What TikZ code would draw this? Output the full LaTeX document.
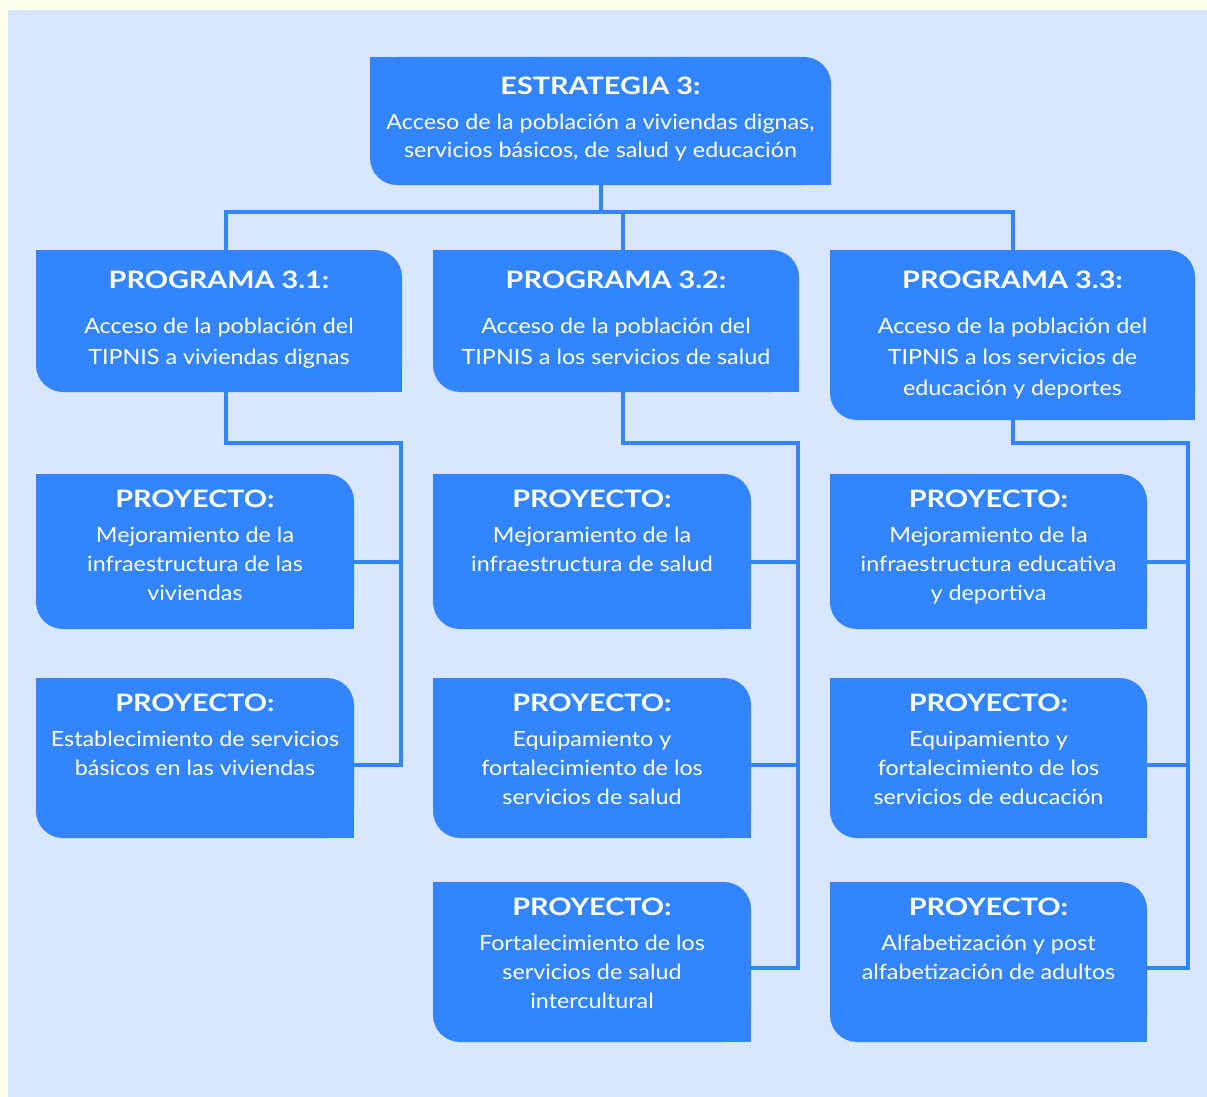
\documentclass[tikz,border=0pt]{standalone}
\usepackage{fontspec}
\setmainfont{Lato}[FakeStretch=1.11, BoldFeatures={FakeStretch=1.2}]
\usetikzlibrary{calc}
\definecolor{boxblue}{HTML}{3385FF}
\definecolor{paneblue}{HTML}{D9E6FF}
\definecolor{cream}{HTML}{FFFFEE}
\newcommand{\boxtxt}[4]{\parbox[b][#2][t]{#1}{\centering\rule{0pt}{\toppad}{\bfseries\fontsize{24}{28}\selectfont #3\par}\vspace{\midpad}#4\par}}

\begin{document}
\begin{tikzpicture}[x=1pt,y=-1pt]
\def \lw {4pt}
  \tikzstyle{leaf} = [inner sep=0, outer sep=0, anchor=north west, text=white,
                      path picture={\fill[boxblue,rounded corners=27pt] (path picture bounding box.south west) rectangle (path picture bounding box.north east);
                                    \fill[boxblue] (path picture bounding box.north west) rectangle ++(30pt,-30pt);
                                    \fill[boxblue] (path picture bounding box.south east) rectangle ++(-30pt,30pt);}]
  \tikzstyle{estrbox} = [leaf, font=\fontsize{21}{28}\selectfont\def\toppad{38pt}\def\midpad{7pt}]
  \tikzstyle{progbox} = [leaf, font=\fontsize{21}{31}\selectfont\def\toppad{38pt}\def\midpad{14pt}]
  \tikzstyle{projbox} = [leaf, font=\fontsize{21}{29}\selectfont\def\toppad{33pt}\def\midpad{6pt}]
  \tikzstyle{conn} = [boxblue, line width=\lw, line join=miter]

%%%%%%%%%%%%%%%%%%%%%%%%%%%%%%%%%%%%%%%%%%%%%%%%%%%%%%%%%%%%%%%%%%%%%%%%%%%%%%%

\useasboundingbox (0,0) rectangle (1207,1097);
\fill[cream] (0,0) rectangle (1207,1097);
\fill[paneblue] (8,10) rectangle (1207,1097);

\coordinate (bus) at (0,212);
\coordinate (tr1) at (401,443);
\coordinate (tr2) at (798,443);
\coordinate (tr3) at (1188,443);

%%%%%%%%%%%%%%%%%%%%%%%%%%%%%%%%%%%%%%%%%%%%%%%%%%%%%%%%%%%%%%%%%%%%%%%%%%%%%%%

\node[estrbox] (estr) at (370,57) {\boxtxt{461pt}{128pt}{ESTRATEGIA 3:}{Acceso de la población a viviendas dignas,\\servicios básicos, de salud y educación}};

\node[progbox] (prog1) at (36,250) {\boxtxt{366pt}{142pt}{PROGRAMA 3.1:}{Acceso de la población del\\TIPNIS a viviendas dignas}};
\node[progbox] (prog2) at (433,250) {\boxtxt{366pt}{142pt}{PROGRAMA 3.2:}{Acceso de la población del\\TIPNIS a los servicios de salud}};
\node[progbox] (prog3) at (830,250) {\boxtxt{365pt}{170pt}{PROGRAMA 3.3:}{Acceso de la población del\\TIPNIS a los servicios de\\educación y deportes}};

\node[projbox] (py11) at (36,474) {\boxtxt{318pt}{155pt}{PROYECTO:}{Mejoramiento de la\\infraestructura de las\\viviendas}};
\node[projbox] (py12) at (36,678) {\boxtxt{318pt}{160pt}{PROYECTO:}{Establecimiento de servicios\\básicos en las viviendas}};

\node[projbox] (py21) at (433,474) {\boxtxt{318pt}{155pt}{PROYECTO:}{Mejoramiento de la\\infraestructura de salud}};
\node[projbox] (py22) at (433,678) {\boxtxt{318pt}{160pt}{PROYECTO:}{Equipamiento y\\fortalecimiento de los\\servicios de salud}};
\node[projbox] (py23) at (433,882) {\boxtxt{318pt}{160pt}{PROYECTO:}{Fortalecimiento de los\\servicios de salud\\intercultural}};

\node[projbox] (py31) at (830,474) {\boxtxt{317pt}{155pt}{PROYECTO:}{Mejoramiento de la\\infraestructura educativa\\y deportiva}};
\node[projbox] (py32) at (830,678) {\boxtxt{317pt}{160pt}{PROYECTO:}{Equipamiento y\\fortalecimiento de los\\servicios de educación}};
\node[projbox] (py33) at (830,882) {\boxtxt{317pt}{160pt}{PROYECTO:}{Alfabetización y post\\alfabetización de adultos}};

%%%%%%%%%%%%%%%%%%%%%%%%%%%%%%%%%%%%%%%%%%%%%%%%%%%%%%%%%%%%%%%%%%%%%%%%%%%%%%%

\coordinate (p1top) at ([xshift=7pt]prog1.north);
\coordinate (p2top) at ([xshift=7pt]prog2.north);
\draw[conn] (estr.south) -- (estr.south |- bus);
\draw[conn] (p1top) |- (estr.south |- bus) -| (prog3.north);
\draw[conn] (p2top) -- (p2top |- bus);

\draw[conn] ([yshift=-7pt]py12.east) -| (tr1) -| ([xshift=7pt]prog1.south);
\draw[conn] ([yshift=-10pt]py11.east) coordinate (b11) -- (b11 -| tr1);

\draw[conn] ([yshift=-6pt]py23.east) -| (tr2) -| ([xshift=7pt]prog2.south);
\draw[conn] ([yshift=-10pt]py21.east) coordinate (b21) -- (b21 -| tr2);
\draw[conn] ([yshift=-7pt]py22.east) coordinate (b22) -- (b22 -| tr2);

\draw[conn] ([yshift=-6pt]py33.east) -| (tr3) -| (prog3.south);
\draw[conn] ([yshift=-10pt]py31.east) coordinate (b31) -- (b31 -| tr3);
\draw[conn] ([yshift=-7pt]py32.east) coordinate (b32) -- (b32 -| tr3);

\end{tikzpicture}
\end{document}
